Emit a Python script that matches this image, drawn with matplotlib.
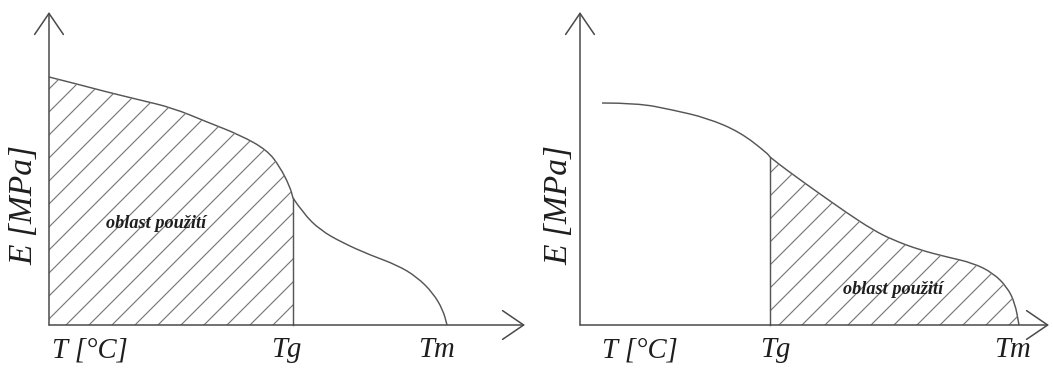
import numpy as np
import matplotlib.pyplot as plt
from matplotlib.path import Path
from matplotlib.patches import PathPatch

plt.rcParams['hatch.linewidth'] = 0.6
plt.rcParams['hatch.color'] = '#777777'

# left panel: amorphous polymer, used below Tg
T_left = [0, 24, 58, 91, 124, 158, 191, 218, 231, 241, 244, 254, 271, 294, 321, 348, 368, 384, 394, 398]
E_left = [248, 242, 233, 225, 217, 203, 190, 175, 158, 138, 127, 112, 95, 82, 70, 60, 48, 32, 15, 0]
Tg_left = 244

# right panel: used between Tg and Tm
T_right = [22, 57, 93, 127, 160, 187, 190, 200, 215, 233, 267, 293, 313, 340, 367, 393, 413, 427, 435, 439]
E_right = [222, 222, 215, 207, 193, 172, 168, 160, 149, 136, 112, 95, 85, 75, 68, 62, 52, 38, 22, 0]
Tg_right = 190

area_label = 'oblast použití'
x_label = 'T [°C]'
y_label = 'E [MPa]'

W, H, dpi = 1053, 369, 138
fig = plt.figure(figsize=(W / dpi, H / dpi), dpi=dpi)

line_c = '#555555'
axis_c = '#4a4a4a'
txt_c = '#1e1e1e'
serif = 'Liberation Serif'


def smooth_verts(x, y):
    # quadratic bezier through midpoints, data points as control points
    pts = np.column_stack([x, y])
    verts = [pts[0]]
    codes = [Path.MOVETO]
    for k in range(1, len(pts) - 1):
        verts += [pts[k], (pts[k] + pts[k + 1]) / 2]
        codes += [Path.CURVE3, Path.CURVE3]
    verts.append(pts[-1])
    codes.append(Path.LINETO)
    return verts, codes


def panel(rect, xmax, T, E, Tg, shade):
    ax = fig.add_axes(rect)
    ax.set_xlim(0, xmax)
    ax.set_ylim(0, 320)
    ax.axis('off')
    T = np.array(T, float)
    E = np.array(E, float)
    arr = dict(arrowstyle='->,head_length=11,head_width=7.5', mutation_scale=1,
               color=axis_c, lw=0.8, shrinkA=0, shrinkB=0)
    ax.annotate('', xy=(xmax - 4, 0), xytext=(0, 0), arrowprops=arr, annotation_clip=False)
    ax.annotate('', xy=(0, 313), xytext=(0, 0), arrowprops=arr, annotation_clip=False)

    i = int(np.where(T == Tg)[0][0])
    parts = [(T[:i + 1], E[:i + 1]), (T[i:], E[i:])]
    for x, y in parts:
        v, c = smooth_verts(x, y)
        ax.add_patch(PathPatch(Path(v, c), facecolor='none', edgecolor=line_c,
                               lw=0.75, clip_on=False))
    ax.plot([Tg, Tg], [0, E[i]], color=line_c, lw=0.75, clip_on=False)

    x, y = parts[0] if shade == 'below' else parts[1]
    v, c = smooth_verts(x, y)
    v = [np.array([x[0], 0.0])] + v + [np.array([x[-1], 0.0]), np.array([x[0], 0.0])]
    c = [Path.MOVETO, Path.LINETO] + c[1:] + [Path.LINETO, Path.CLOSEPOLY]
    ax.add_patch(PathPatch(Path(v, c), facecolor='none', edgecolor='#777777',
                           lw=0, hatch='//'))
    return ax


axL = panel([49 / W, 44 / H, 480 / W, 320 / H], 480, T_left, E_left, Tg_left, 'below')
axR = panel([580 / W, 44 / H, 473 / W, 320 / H], 473, T_right, E_right, Tg_right, 'above')

fs = 15
for ax, xl, tg, tm, ey, ox, oy in [(axL, 41, 237, 387, -25, 107, 102),
                                    (axR, 60, 195, 433, -21, 313, 35)]:
    ax.text(xl, -32, x_label, ha='center', va='baseline', fontsize=fs,
            family=serif, style='italic', color=txt_c)
    ax.text(tg, -32, 'Tg', ha='center', va='baseline', fontsize=fs,
            family=serif, style='italic', color=txt_c)
    ax.text(tm, -32, 'Tm', ha='center', va='baseline', fontsize=fs,
            family=serif, style='italic', color=txt_c)
    ax.text(ey, 120, y_label, ha='center', va='center', rotation=90, fontsize=17.5,
            family=serif, style='italic', color=txt_c)
    ax.text(ox, oy, area_label, ha='center', va='center', fontsize=9.5,
            family=serif, style='italic', weight='bold', color=txt_c)

fig.savefig('out.png', dpi=dpi, facecolor='white')
